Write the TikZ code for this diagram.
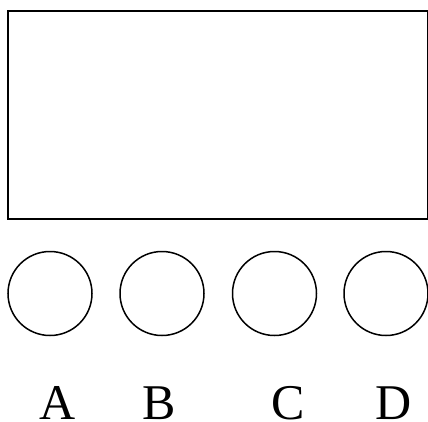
\documentclass[tikz,border=0pt]{standalone}
\usepackage{fontspec}
\setmainfont{Liberation Serif}

\tikzset{
  panel/.style={draw,line width=2pt,inner sep=0pt,outer sep=0pt,minimum width=419.5pt,minimum height=208pt},
  ball/.style={draw,circle,line width=1.5pt,inner sep=0pt,outer sep=0pt,minimum size=84pt},
  letter/.style={font=\fontsize{50}{50}\selectfont,inner sep=0pt,anchor=base}
}

\begin{document}
\begin{tikzpicture}[x=1pt,y=-1pt]
	\useasboundingbox (0,0) rectangle (428,421);
	\node[panel,anchor=north west] (board) at (8,11) {};
	\node[ball] (a) at (50,293.5) {};
	\node[ball] (b) at (162,293.5) {};
	\node[ball] (c) at (274.5,293.5) {};
	\node[ball] (d) at (386,293.5) {};
	\node[letter] (la) at (57.5,419) {A};
	\node[letter] (lb) at (159.5,419) {B};
	\node[letter] (lc) at (288,419) {C};
	\node[letter] (ld) at (393.5,419) {D};
\end{tikzpicture}
\end{document}
